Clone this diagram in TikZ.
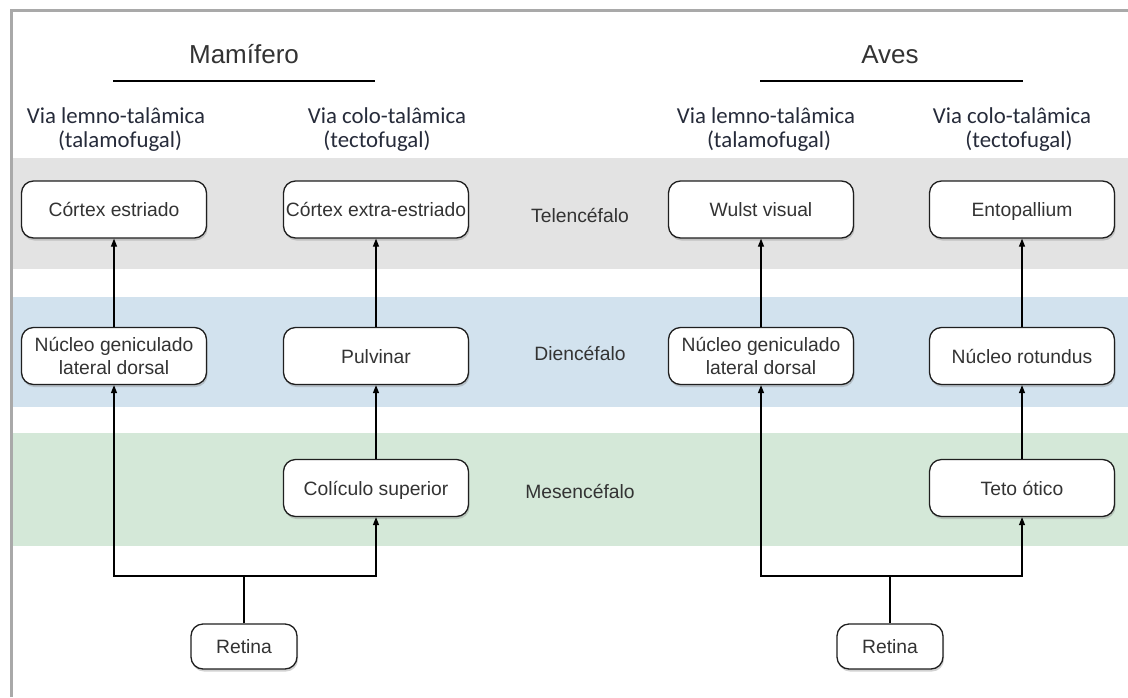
\documentclass[tikz,border=0pt]{standalone}
\usepackage{fontspec}
\setmainfont{Liberation Sans}
\newfontfamily\helvfont{Liberation Sans}
\newfontfamily\calibrifont{Carlito}
\usetikzlibrary{arrows.meta,shadows}
\definecolor{bandgray}{HTML}{E3E3E3}
\definecolor{bandblue}{HTML}{D2E2EE}
\definecolor{bandgreen}{HTML}{D4E8D8}
\definecolor{framegray}{HTML}{A9A9A9}
\definecolor{txt}{HTML}{333333}
\definecolor{viatxt}{HTML}{262B3A}
\begin{document}
\begin{tikzpicture}[x=1pt,y=-1pt,
  box/.style={draw=black!88, line width=1.3pt, fill=white, rounded corners=12pt,
    minimum width=185pt, minimum height=57pt, inner sep=0pt, align=center,
    font=\helvfont\fontsize{19.3}{23}\selectfont, text=txt,
    drop shadow={shadow xshift=1pt, shadow yshift=-2.5pt, opacity=0.35}},
  onebox/.style={box, text height=14pt, text depth=0pt},
  retbox/.style={onebox, minimum width=106pt, minimum height=45pt},
  flow/.style={line width=1.2pt, draw=black, -{Triangle[length=8pt,width=6pt]}},
  link/.style={line width=1.2pt, draw=black},
  titletext/.style={font=\helvfont\fontsize{26}{30}\selectfont, text=txt, anchor=base, inner sep=0pt},
  viatext/.style={font=\calibrifont\fontsize{22.8}{25}\selectfont, text=viatxt, anchor=base, inner sep=0pt},
  bandtext/.style={font=\helvfont\fontsize{19.3}{23}\selectfont, text=txt, anchor=base, inner sep=0pt}
]
\useasboundingbox (0,0) rectangle (1128,697);
\fill[white] (0,0) rectangle (1128,697);
% bands
\fill[bandgray]  (13,158) rectangle (1128,269);
\fill[bandblue]  (13,297) rectangle (1128,407);
\fill[bandgreen] (13,433) rectangle (1128,546);
% frame
\draw[framegray, line width=3pt] (11.3,697) -- (11.3,10) -- (1128,10);

% titles
\node[titletext] (mam) at (244,63) {Mamífero};
\node[titletext] (aves) at (890,63) {Aves};
\coordinate (mamA) at (113,81); \coordinate (mamB) at (375,81);
\coordinate (avesA) at (760,81); \coordinate (avesB) at (1023,81);
\draw[link] (mamA) -- (mamB);
\draw[link] (avesA) -- (avesB);

% pathway labels
\node[viatext] (vl1) at (116,123) {Via lemno-talâmica};
\node[viatext] (vl2) at (120,147) {(talamofugal)};
\node[viatext] (vc1) at (387,123) {Via colo-talâmica};
\node[viatext] (vc2) at (377,147) {(tectofugal)};
\node[viatext] (vl3) at (766,123) {Via lemno-talâmica};
\node[viatext] (vl4) at (769,147) {(talamofugal)};
\node[viatext] (vc3) at (1012,123) {Via colo-talâmica};
\node[viatext] (vc4) at (1019,147) {(tectofugal)};

% band labels
\node[bandtext] (tel) at (580,222) {Telencéfalo};
\node[bandtext] (die) at (580,360) {Diencéfalo};
\node[bandtext] (mes) at (580,498) {Mesencéfalo};

% mammal boxes
\node[onebox] (cortL)  at (114,209.5) {Córtex estriado};
\node[onebox] (cortXL) at (376,209.5) {Córtex extra-estriado};
\node[box] (ngL)    at (114,356) {Núcleo geniculado\\lateral dorsal};
\node[onebox] (pulv)   at (376,356) {Pulvinar};
\node[onebox] (colSup) at (376,488) {Colículo superior};
\node[retbox] (retL) at (244,646.5) {Retina};

% bird boxes
\node[onebox] (wulst) at (761,209.5) {Wulst visual};
\node[onebox] (ento)  at (1022,209.5) {Entopallium};
\node[box] (ngR)   at (761,356) {Núcleo geniculado\\lateral dorsal};
\node[onebox] (rot)   at (1022,356) {Núcleo rotundus};
\node[onebox] (teto)  at (1022,488) {Teto ótico};
\node[retbox] (retR) at (890,646.5) {Retina};

% junctions
\coordinate (jL) at (244,576);
\coordinate (jR) at (890,576);

% mammal connectors
\draw[flow] (ngL.north) -- (cortL.south);
\draw[flow] (pulv.north) -- (cortXL.south);
\draw[flow] (colSup.north) -- (pulv.south);
\draw[link] (retL.north) -- (jL);
\draw[flow] (jL) -| (ngL.south);
\draw[flow] (jL) -| (colSup.south);

% bird connectors
\draw[flow] (ngR.north) -- (wulst.south);
\draw[flow] (rot.north) -- (ento.south);
\draw[flow] (teto.north) -- (rot.south);
\draw[link] (retR.north) -- (jR);
\draw[flow] (jR) -| (ngR.south);
\draw[flow] (jR) -| (teto.south);
\end{tikzpicture}
\end{document}
